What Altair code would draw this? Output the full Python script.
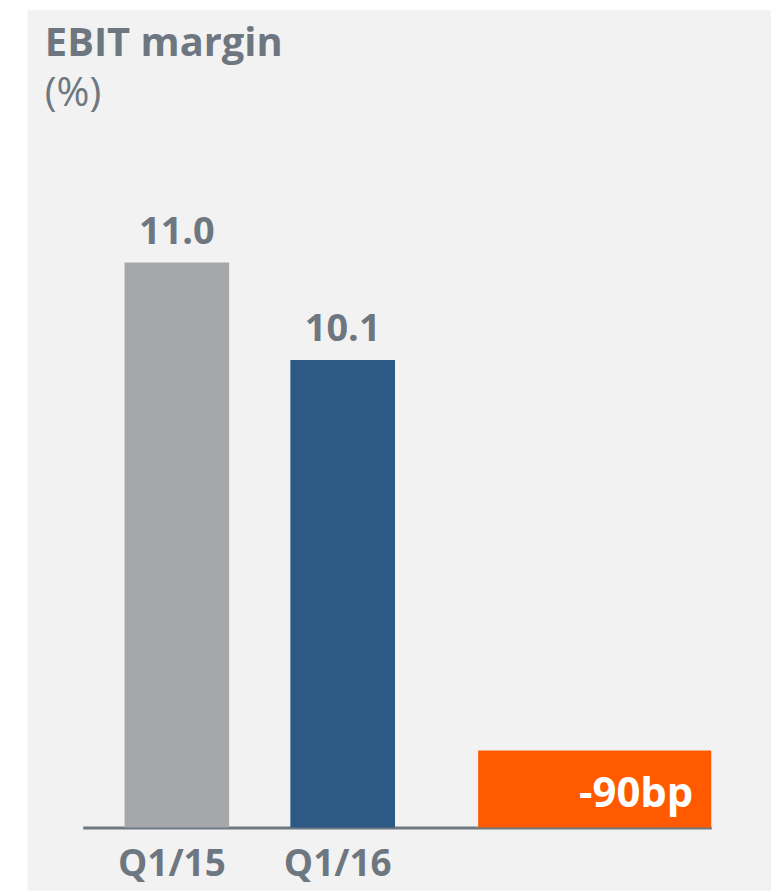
import altair as alt
import pandas as pd

# ---- data ----
periods = ["Q1/15", "Q1/16"]
margins = [11.0, 10.1]
value_labels = ["11.0", "10.1"]
bar_colors = ["#a4a8ab", "#2d5986"]
delta_key = "change"
delta_text = "-90bp"
delta_box_top = 6.50      # top of the orange change box on the value axis
axis_base = 5.79          # value at the baseline (truncated axis)
axis_top = 13.33

TEXT = "#6e7780"
FONT = "Open Sans"

bars_df = pd.DataFrame({"period": periods, "margin": margins,
                        "label": value_labels, "color": bar_colors})
delta_df = pd.DataFrame({"period": [delta_key], "top": [delta_box_top],
                         "label": [delta_text]})

domain_x = periods + [delta_key]
x_enc = alt.X(
    "period:N",
    sort=domain_x,
    scale=alt.Scale(domain=domain_x, range=[56, 687], paddingInner=0.369,
                    paddingOuter=0.5795, align=0.2176),
    axis=alt.Axis(title=None, orient="bottom", offset=-63, domainColor="#6f7982",
                  domainWidth=3, ticks=False, tickSize=0, labelFontSize=37,
                  labelFont=FONT, labelFontWeight="bold", labelColor=TEXT,
                  labelPadding=48, labelBaseline="alphabetic", labelAngle=0,
                  labelOffset=-5,
                  labelExpr="datum.value == 'change' ? '' : datum.label"),
)
y_scale = alt.Scale(domain=[axis_base, axis_top], range=[821, 0], nice=False, zero=False)

bars = alt.Chart(bars_df).mark_bar().encode(
    x=x_enc,
    y=alt.Y("margin:Q", scale=y_scale, axis=None),
    y2=alt.datum(axis_base),
    color=alt.Color("color:N", scale=None, legend=None),
)

values = alt.Chart(bars_df).mark_text(
    baseline="alphabetic", dy=-19, fontSize=38, fontWeight="bold", font=FONT, color=TEXT
).encode(x=x_enc, y=alt.Y("margin:Q", scale=y_scale, axis=None), text="label:N")

delta_box = alt.Chart(delta_df).mark_bar(color="#ff5a00", width=234, xOffset=86.5).encode(
    x=x_enc,
    y=alt.Y("top:Q", scale=y_scale, axis=None),
    y2=alt.datum(axis_base),
)

delta_label = alt.Chart(delta_df).mark_text(
    align="right", baseline="alphabetic", dx=185.5, dy=-21, fontSize=42,
    fontWeight="bold", font=FONT, color="white"
).encode(x=x_enc, y=alt.Y(datum=axis_base, type="quantitative", scale=y_scale, axis=None),
         text="label:N")

chart = alt.layer(bars, values, delta_box, delta_label).properties(
    width=747,
    height=884,
    padding={"left": 19, "top": 0, "right": 0, "bottom": 0},
    autosize="none",
    background="white",
    title=alt.Title(
        "EBIT margin", subtitle="(%)", anchor="start", frame="group", offset=-105,
        dx=18, fontSize=40, font=FONT, fontWeight="bold", color=TEXT,
        subtitleFontSize=40, subtitleFont=FONT, subtitleFontWeight="normal",
        subtitleColor=TEXT, subtitlePadding=11,
    ),
).configure_view(fill="#f2f2f2", stroke="transparent")

chart.save("out.html", embed_options={"renderer": "svg", "actions": False})
